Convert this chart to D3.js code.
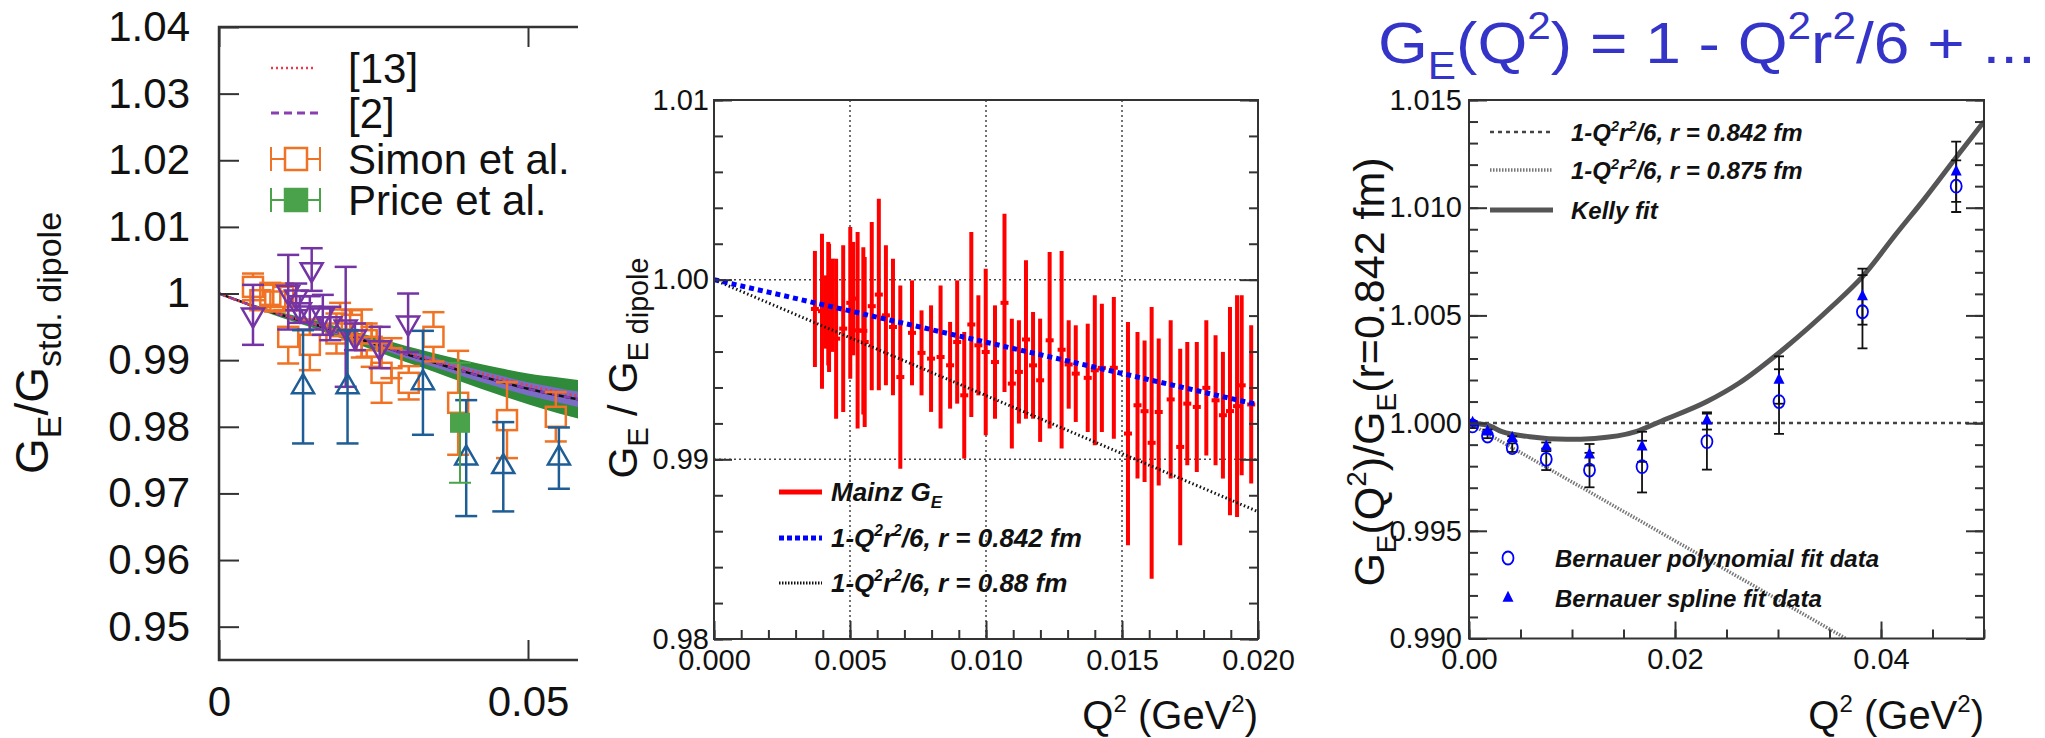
<!DOCTYPE html>
<html>
<head>
<meta charset="utf-8">
<script src="https://cdn.jsdelivr.net/npm/d3@7"></script>
<style>
  body { margin: 0; background: #fff; }
  svg { display: block; }
</style>
</head>
<body>
<div id="wrapper"></div>
<script>
const FONT = "'Liberation Sans', Arial, Helvetica, sans-serif"

// ---------- left panel: G_E / G_std.dipole ----------
const leftYTicks = [1.04, 1.03, 1.02, 1.01, 1.00, 0.99, 0.98, 0.97, 0.96, 0.95]
const leftYLabels = ["1.04", "1.03", "1.02", "1.01", "1", "0.99", "0.98", "0.97", "0.96", "0.95"]
const leftXTicks = [0, 0.05]
const leftXLabels = ["0", "0.05"]

const bandQ      = [0, 0.005, 0.01, 0.015, 0.02, 0.025, 0.03, 0.035, 0.04, 0.045, 0.05, 0.055, 0.06]
const bandMid    = [1.0, 0.9983, 0.9968, 0.9955, 0.9940, 0.9925, 0.9910, 0.9896, 0.9882, 0.9869, 0.9857, 0.9847, 0.9838]
const fit13      = [1.0, 0.9983, 0.9969, 0.9956, 0.9942, 0.9927, 0.9913, 0.9899, 0.9886, 0.9874, 0.9862, 0.9852, 0.9843]
const bandGreen  = [0, 0.0002, 0.0004, 0.0006, 0.0008, 0.0010, 0.0012, 0.0014, 0.0017, 0.0020, 0.0023, 0.0027, 0.0030]
const bandPurple = [0, 0.0001, 0.0002, 0.0003, 0.0004, 0.0005, 0.0006, 0.0007, 0.0008, 0.0009, 0.0010, 0.0011, 0.0012]

const simonQ   = [0.0055, 0.0067, 0.0083, 0.0091, 0.0104, 0.0112, 0.0147, 0.0190, 0.0196, 0.0215, 0.0231, 0.0239, 0.0247, 0.0263, 0.0279, 0.0307, 0.0347, 0.0387, 0.0466, 0.0545]
const simonV   = [1.0010, 0.9990, 0.9998, 0.9988, 0.9995, 0.9935, 0.9923, 0.9940, 0.9961, 0.9953, 0.9940, 0.9930, 0.9920, 0.9881, 0.9903, 0.9866, 0.9935, 0.9836, 0.9810, 0.9815]
const simonErr = [0.0020, 0.0015, 0.0018, 0.0015, 0.0020, 0.0040, 0.0038, 0.0030, 0.0025, 0.0022, 0.0036, 0.0025, 0.0030, 0.0045, 0.0030, 0.0025, 0.0037, 0.0078, 0.0057, 0.0037]

const purpleQ   = [0.0055, 0.0112, 0.0125, 0.0131, 0.0147, 0.0150, 0.0168, 0.0180, 0.0205, 0.0220, 0.0260, 0.0306]
const purpleV   = [0.9968, 1.0002, 0.9995, 0.9976, 0.9971, 1.0036, 0.9968, 0.9955, 0.9950, 0.9935, 0.9919, 0.9956]
const purpleErr = [0.0045, 0.0056, 0.0020, 0.0020, 0.0025, 0.0032, 0.0030, 0.0025, 0.0090, 0.0020, 0.0031, 0.0044]

const blueQ   = [0.0136, 0.0208, 0.0330, 0.0400, 0.0460, 0.0550]
const blueV   = [0.9860, 0.9860, 0.9866, 0.9753, 0.9740, 0.9753]
const blueErr = [0.0085, 0.0085, 0.0078, 0.0087, 0.0067, 0.0046]

const priceQ = [0.039]
const priceV = [0.9806]
const priceErr = [0.0090]

// ---------- middle panel: Mainz G_E ----------
const midYTicks = [0.98, 0.99, 1.00, 1.01]
const midYLabels = ["0.98", "0.99", "1.00", "1.01"]
const midXTicks = [0, 0.005, 0.010, 0.015, 0.020]
const midXLabels = ["0.000", "0.005", "0.010", "0.015", "0.020"]
const midGridX = [0.005, 0.010, 0.015]
const midGridY = [0.99, 1.00]

const mainzQ = [0.00371, 0.00397, 0.0041, 0.0042, 0.00423, 0.00436, 0.00449, 0.00475, 0.00501, 0.00512,
  0.00528, 0.00549, 0.00554, 0.0058, 0.00606, 0.00632, 0.00658, 0.00685, 0.00728, 0.00763,
  0.00798, 0.00833, 0.00868, 0.00894, 0.0092, 0.00946, 0.00972, 0.00999, 0.01033, 0.01068,
  0.01095, 0.01121, 0.01147, 0.01173, 0.01199, 0.01234, 0.01278, 0.01304, 0.0133, 0.01374,
  0.014, 0.01426, 0.0147, 0.01522, 0.01557, 0.01583, 0.01609, 0.01635, 0.01679, 0.01714,
  0.0174, 0.01775, 0.0181, 0.01844, 0.01871, 0.01897, 0.01923, 0.0194, 0.01975]
const mainzLow = [0.99514, 0.99393, 0.99616, 0.99523, 0.99486, 0.99598, 0.99226, 0.99264, 0.99449, 0.99579,
  0.99171, 0.99250, 0.99180, 0.99384, 0.99384, 0.99412, 0.99356, 0.98948, 0.99412, 0.99356,
  0.99264, 0.99171, 0.99282, 0.99310, 0.99004, 0.99236, 0.99356, 0.99134, 0.99226, 0.99375,
  0.99060, 0.99199, 0.99226, 0.99226, 0.99097, 0.99171, 0.99060, 0.99282, 0.99208, 0.99152,
  0.99078, 0.99152, 0.99115, 0.98522, 0.98893, 0.98874, 0.98336, 0.98855, 0.98893, 0.98522,
  0.98967, 0.98930, 0.99022, 0.98967, 0.98893, 0.98689, 0.98679, 0.98911, 0.98865]
const mainzHigh = [1.00160, 1.00256, 1.00024, 1.00210, 1.00200, 1.00117, 1.00117, 1.00191, 1.00293, 1.00210,
  1.00265, 1.00180, 1.00126, 1.00321, 1.00450, 1.00191, 1.00117, 0.99968, 0.99996, 0.99829,
  0.99857, 0.99968, 0.99765, 0.99996, 0.99709, 1.00265, 0.99913, 1.00061, 0.99857, 1.00367,
  0.99783, 0.99774, 1.00108, 0.99820, 0.99783, 1.00154, 1.00160, 0.99774, 0.99746, 0.99755,
  0.99913, 0.99866, 0.99904, 0.99765, 0.99709, 0.99662, 0.99848, 0.99672, 0.99774, 0.99616,
  0.99653, 0.99653, 0.99774, 0.99690, 0.99598, 0.99848, 0.99913, 0.99913, 0.99746]

const lineQ   = [0, 0.005, 0.010, 0.015, 0.020]
const line842 = [1.0, 0.99826, 0.99652, 0.99478, 0.99304]
const line088 = [1.0, 0.99677, 0.99355, 0.99032, 0.98709]

// ---------- right panel: Bernauer ----------
const rightYTicks = [0.990, 0.995, 1.000, 1.005, 1.010, 1.015]
const rightYLabels = ["0.990", "0.995", "1.000", "1.005", "1.010", "1.015"]
const rightXTicks = [0, 0.02, 0.04]
const rightXLabels = ["0.00", "0.02", "0.04"]

const kellyQ = [0, 0.0018, 0.0032, 0.0059, 0.0095, 0.0122, 0.0162, 0.0187, 0.0231, 0.0262, 0.0307, 0.0352, 0.0382, 0.0415, 0.0442, 0.0474, 0.05]
const kellyV = [1.0, 0.9999, 0.9996, 0.99937, 0.99925, 0.99929, 0.9996, 1.0001, 1.0010, 1.00185, 1.0035, 1.0054, 1.0068, 1.0088, 1.0104, 1.0124, 1.0140]
const flatQ = [0, 0.05]
const flatV = [1.0, 1.0]
const r875Q = [0, 0.0366]
const r875V = [1.0, 0.990]

const bernQ      = [0.00035, 0.0018, 0.0042, 0.0075, 0.0117, 0.0168, 0.0231, 0.0301, 0.0382, 0.0473]
const polyV      = [0.99987, 0.9994, 0.99886, 0.99832, 0.99782, 0.99798, 0.99914, 1.0010, 1.00517, 1.0110]
const polyErr    = [0.0001, 0.0001, 0.0002, 0.0005, 0.0008, 0.0012, 0.0013, 0.0015, 0.0017, 0.0012]
const splineV    = [1.0000, 0.9996, 0.99929, 0.9989, 0.99853, 0.9989, 1.0001, 1.0020, 1.00587, 1.01167]
const splineErr  = [0.0001, 0.0001, 0.0001, 0.0002, 0.0005, 0.0007, 0.0004, 0.0011, 0.0013, 0.0014]

// ---------- helpers ----------
const svg = d3.select("#wrapper").append("svg")
  .attr("width", 2045)
  .attr("height", 738)
  .attr("font-family", FONT)

// text with sub/superscripts; parts: [text, "sup"|"sub"|undefined]
function rich(sel, parts, fs, subScale = 0.68) {
  let off = 0
  parts.forEach(([t, kind]) => {
    const target = kind === "sup" ? -0.42 * fs : kind === "sub" ? 0.28 * fs : 0
    sel.append("tspan")
      .attr("dy", target - off)
      .attr("font-size", kind ? fs * subScale : fs)
      .text(t)
    off = target
  })
  return sel
}

function styleAxis(g, fs) {
  g.select(".domain").remove()
  g.attr("font-family", FONT).attr("font-size", fs)
  g.selectAll(".tick line").attr("stroke", "#333").attr("stroke-width", 2)
  g.selectAll(".tick text").attr("fill", "#111")
}

function errBar(g, x, y0, y1, cap, color, width) {
  g.append("line").attr("x1", x).attr("x2", x).attr("y1", y0).attr("y2", y1)
    .attr("stroke", color).attr("stroke-width", width)
  ;[y0, y1].forEach(y => g.append("line")
    .attr("x1", x - cap / 2).attr("x2", x + cap / 2).attr("y1", y).attr("y2", y)
    .attr("stroke", color).attr("stroke-width", width))
}

function triPath(cx, cy, w, h, up) {
  const s = up ? 1 : -1
  return `M${cx},${cy - s * h * 2 / 3} L${cx + w / 2},${cy + s * h / 3} L${cx - w / 2},${cy + s * h / 3} Z`
}

// ================= LEFT PANEL =================
const xL = d3.scaleLinear().domain([0, 0.05]).range([219, 528])
const yL = d3.scaleLinear().domain([0.945, 1.04]).range([660, 27])
const leftRight = 578

svg.append("defs").append("clipPath").attr("id", "clipL")
  .append("rect").attr("x", 219).attr("y", 27).attr("width", leftRight - 219).attr("height", 633)

const left = svg.append("g")
const leftData = left.append("g").attr("clip-path", "url(#clipL)")

const bandRows = bandQ.map((q, i) => ({ q, m: bandMid[i], g: bandGreen[i], p: bandPurple[i], f: fit13[i] }))
leftData.append("path").datum(bandRows)
  .attr("fill", "#2f8a3a")
  .attr("d", d3.area().curve(d3.curveMonotoneX).x(d => xL(d.q)).y0(d => yL(d.m - d.g)).y1(d => yL(d.m + d.g)))
leftData.append("path").datum(bandRows)
  .attr("fill", "#7b6cc6")
  .attr("d", d3.area().curve(d3.curveMonotoneX).x(d => xL(d.q)).y0(d => yL(d.m - d.p)).y1(d => yL(d.m + d.p)))
leftData.append("path").datum(bandRows)
  .attr("fill", "none").attr("stroke", "#111").attr("stroke-width", 2.5)
  .attr("d", d3.line().curve(d3.curveMonotoneX).x(d => xL(d.q)).y(d => yL(d.m)))
leftData.append("path").datum(bandRows)
  .attr("fill", "none").attr("stroke", "#8a3fb0").attr("stroke-width", 2.5).attr("stroke-dasharray", "7,5")
  .attr("d", d3.line().curve(d3.curveMonotoneX).x(d => xL(d.q)).y(d => yL(d.m)))
leftData.append("path").datum(bandRows)
  .attr("fill", "none").attr("stroke", "#e83a4a").attr("stroke-width", 2.5).attr("stroke-dasharray", "2,3")
  .attr("d", d3.line().curve(d3.curveMonotoneX).x(d => xL(d.q)).y(d => yL(d.f)))

// Simon et al. (open squares)
const orange = "#f07224"
simonQ.forEach((q, i) => {
  const cx = xL(q), cy = yL(simonV[i]), half = 10
  const top = yL(simonV[i] + simonErr[i]), bot = yL(simonV[i] - simonErr[i])
  const g = leftData.append("g")
  if (top < cy - half) {
    g.append("line").attr("x1", cx).attr("x2", cx).attr("y1", top).attr("y2", cy - half).attr("stroke", orange).attr("stroke-width", 2.5)
    g.append("line").attr("x1", cx - 11).attr("x2", cx + 11).attr("y1", top).attr("y2", top).attr("stroke", orange).attr("stroke-width", 2.5)
  }
  if (bot > cy + half) {
    g.append("line").attr("x1", cx).attr("x2", cx).attr("y1", cy + half).attr("y2", bot).attr("stroke", orange).attr("stroke-width", 2.5)
    g.append("line").attr("x1", cx - 11).attr("x2", cx + 11).attr("y1", bot).attr("y2", bot).attr("stroke", orange).attr("stroke-width", 2.5)
  }
  g.append("rect").attr("x", cx - half).attr("y", cy - half).attr("width", 2 * half).attr("height", 2 * half)
    .attr("fill", "none").attr("stroke", orange).attr("stroke-width", 2.5)
})

// down triangles (purple)
const purple = "#7434a4"
purpleQ.forEach((q, i) => {
  const cx = xL(q), cy = yL(purpleV[i])
  const g = leftData.append("g")
  errBar(g, cx, yL(purpleV[i] + purpleErr[i]), yL(purpleV[i] - purpleErr[i]), 22, purple, 2.5)
  g.append("path").attr("d", triPath(cx, cy, 22, 19, false))
    .attr("fill", "none").attr("stroke", purple).attr("stroke-width", 2.5)
})

// up triangles (blue)
const steel = "#1e5d95"
blueQ.forEach((q, i) => {
  const cx = xL(q), cy = yL(blueV[i])
  const g = leftData.append("g")
  errBar(g, cx, yL(blueV[i] + blueErr[i]), yL(blueV[i] - blueErr[i]), 22, steel, 2.5)
  g.append("path").attr("d", triPath(cx, cy, 22, 19, true))
    .attr("fill", "none").attr("stroke", steel).attr("stroke-width", 2.5)
})

// Price et al. (filled square)
const green = "#4aa24a"
priceQ.forEach((q, i) => {
  const cx = xL(q), cy = yL(priceV[i])
  const g = leftData.append("g")
  errBar(g, cx, yL(priceV[i] + priceErr[i]), yL(priceV[i] - priceErr[i]), 22, green, 2)
  g.append("rect").attr("x", cx - 10).attr("y", cy - 10).attr("width", 20).attr("height", 20).attr("fill", green)
})

// frame + axes
left.append("path").attr("d", `M${leftRight},27 H219 V660 H${leftRight}`)
  .attr("fill", "none").attr("stroke", "#333").attr("stroke-width", 2.5)
left.append("g").attr("transform", "translate(219,0)")
  .call(d3.axisLeft(yL).tickValues(leftYTicks).tickSize(-20).tickPadding(29).tickFormat((d, i) => leftYLabels[i]))
  .call(g => styleAxis(g, 42))
left.append("g").attr("transform", "translate(0,660)")
  .call(d3.axisBottom(xL).tickValues(leftXTicks).tickSize(-20).tickPadding(26).tickFormat((d, i) => leftXLabels[i]))
  .call(g => styleAxis(g, 42))
left.append("g").attr("transform", "translate(0,27)")
  .call(d3.axisTop(xL).tickValues(leftXTicks).tickSize(-20).tickFormat(""))
  .call(g => styleAxis(g, 42))

rich(left.append("text").attr("transform", "translate(48,343) rotate(-90)")
  .attr("text-anchor", "middle").attr("fill", "#111"),
  [["G"], ["E", "sub"], ["/G"], ["std. dipole", "sub"]], 46, 0.74)

// legend
const legL = left.append("g")
const legLX0 = 271, legLX1 = 320, legLText = 348
legL.append("line").attr("x1", legLX0).attr("x2", legLX1 - 4).attr("y1", 68).attr("y2", 68)
  .attr("stroke", "#e83a4a").attr("stroke-width", 2.5).attr("stroke-dasharray", "2,3")
legL.append("line").attr("x1", legLX0).attr("x2", legLX1).attr("y1", 113).attr("y2", 113)
  .attr("stroke", "#8a3fb0").attr("stroke-width", 3).attr("stroke-dasharray", "8,5")
;[[159, orange, false], [200, green, true]].forEach(([y, c, filled]) => {
  legL.append("line").attr("x1", legLX0).attr("x2", legLX1).attr("y1", y).attr("y2", y).attr("stroke", c).attr("stroke-width", 2)
  ;[legLX0, legLX1].forEach(x => legL.append("line").attr("x1", x).attr("x2", x).attr("y1", y - 12).attr("y2", y + 12).attr("stroke", c).attr("stroke-width", 2))
  legL.append("rect").attr("x", 285).attr("y", y - 11).attr("width", 22).attr("height", 22)
    .attr("fill", filled ? c : "#fff").attr("stroke", c).attr("stroke-width", 2.5)
})
;[["[13]", 68], ["[2]", 113], ["Simon et al.", 159], ["Price et al.", 200]].forEach(([t, y]) => {
  legL.append("text").attr("x", legLText).attr("y", y + 15).attr("font-size", 42).attr("fill", "#111").text(t)
})

// ================= MIDDLE PANEL =================
const xM = d3.scaleLinear().domain([0, 0.02]).range([714, 1258])
const yM = d3.scaleLinear().domain([0.98, 1.01]).range([639, 100])
const mid = svg.append("g")

// grid
midGridX.forEach(q => mid.append("line").attr("x1", xM(q)).attr("x2", xM(q)).attr("y1", 100).attr("y2", 639)
  .attr("stroke", "#444").attr("stroke-width", 1.5).attr("stroke-dasharray", "2,3"))
midGridY.forEach(v => mid.append("line").attr("x1", 714).attr("x2", 1258).attr("y1", yM(v)).attr("y2", yM(v))
  .attr("stroke", "#444").attr("stroke-width", 1.5).attr("stroke-dasharray", "2,3"))

// Mainz data
const red = "#ff0000"
mainzQ.forEach((q, i) => {
  const cx = xM(q)
  mid.append("line").attr("x1", cx).attr("x2", cx).attr("y1", yM(mainzHigh[i])).attr("y2", yM(mainzLow[i]))
    .attr("stroke", red).attr("stroke-width", 4)
  mid.append("rect").attr("x", cx - 4).attr("y", yM((mainzHigh[i] + mainzLow[i]) / 2) - 2).attr("width", 8).attr("height", 4).attr("fill", red)
})

const lineRows = lineQ.map((q, i) => ({ q, a: line842[i], b: line088[i] }))
mid.append("path").datum(lineRows).attr("fill", "none").attr("stroke", "#111").attr("stroke-width", 3)
  .attr("stroke-dasharray", "1.5,2.5")
  .attr("d", d3.line().x(d => xM(d.q)).y(d => yM(d.b)))
mid.append("path").datum(lineRows).attr("fill", "none").attr("stroke", "#0000ff").attr("stroke-width", 5)
  .attr("stroke-dasharray", "5,4")
  .attr("d", d3.line().x(d => xM(d.q)).y(d => yM(d.a)))

mid.append("rect").attr("x", 714).attr("y", 100).attr("width", 544).attr("height", 539)
  .attr("fill", "none").attr("stroke", "#333").attr("stroke-width", 2)

const midMinorY = d3.range(0.98, 1.0101, 0.002)
const midMinorX = d3.range(0, 0.02001, 0.001)
mid.append("g").attr("transform", "translate(714,0)")
  .call(d3.axisLeft(yM).tickValues(midMinorY).tickSize(-9).tickFormat("")).call(g => styleAxis(g, 29))
mid.append("g").attr("transform", "translate(1258,0)")
  .call(d3.axisRight(yM).tickValues(midMinorY).tickSize(-9).tickFormat("")).call(g => styleAxis(g, 29))
mid.append("g").attr("transform", "translate(714,0)")
  .call(d3.axisLeft(yM).tickValues(midYTicks).tickSize(-18).tickPadding(5).tickFormat((d, i) => midYLabels[i]))
  .call(g => styleAxis(g, 29))
mid.append("g").attr("transform", "translate(1258,0)")
  .call(d3.axisRight(yM).tickValues(midYTicks).tickSize(-18).tickFormat("")).call(g => styleAxis(g, 29))
mid.append("g").attr("transform", "translate(0,639)")
  .call(d3.axisBottom(xM).tickValues(midMinorX).tickSize(-9).tickFormat("")).call(g => styleAxis(g, 29))
mid.append("g").attr("transform", "translate(0,639)")
  .call(d3.axisBottom(xM).tickValues(midXTicks).tickSize(-18).tickPadding(10).tickFormat((d, i) => midXLabels[i]))
  .call(g => styleAxis(g, 29))

rich(mid.append("text").attr("x", 1258).attr("y", 729).attr("text-anchor", "end").attr("fill", "#111"),
  [["Q"], ["2", "sup"], [" (GeV"], ["2", "sup"], [")"]], 40, 0.6)
rich(mid.append("text").attr("transform", "translate(637,368) rotate(-90)").attr("text-anchor", "middle").attr("fill", "#111"),
  [["G"], ["E", "sub"], [" / G"], ["E dipole", "sub"]], 41, 0.7)

// legend
const legM = mid.append("g").attr("font-weight", "bold").attr("font-style", "italic")
legM.append("line").attr("x1", 779).attr("x2", 822).attr("y1", 492).attr("y2", 492).attr("stroke", red).attr("stroke-width", 5)
legM.append("line").attr("x1", 779).attr("x2", 822).attr("y1", 538).attr("y2", 538).attr("stroke", "#0000ff").attr("stroke-width", 5).attr("stroke-dasharray", "5,3")
legM.append("line").attr("x1", 779).attr("x2", 822).attr("y1", 583).attr("y2", 583).attr("stroke", "#111").attr("stroke-width", 3).attr("stroke-dasharray", "1.5,1.5")
rich(legM.append("text").attr("x", 831).attr("y", 501).attr("fill", "#111"), [["Mainz G"], ["E", "sub"]], 26, 0.65)
rich(legM.append("text").attr("x", 831).attr("y", 547).attr("fill", "#111"),
  [["1-Q"], ["2", "sup"], ["r"], ["2", "sup"], ["/6, r = 0.842 fm"]], 26, 0.6)
rich(legM.append("text").attr("x", 831).attr("y", 592).attr("fill", "#111"),
  [["1-Q"], ["2", "sup"], ["r"], ["2", "sup"], ["/6, r = 0.88 fm"]], 26, 0.6)

// ================= RIGHT PANEL =================
const xR = d3.scaleLinear().domain([0, 0.05]).range([1469, 1984])
const yR = d3.scaleLinear().domain([0.990, 1.015]).range([638.5, 100])
const right = svg.append("g")
svg.select("defs").append("clipPath").attr("id", "clipR")
  .append("rect").attr("x", 1469).attr("y", 100).attr("width", 515).attr("height", 538.5)
const rightData = right.append("g").attr("clip-path", "url(#clipR)")

const lineR = d3.line().x(d => xR(d[0])).y(d => yR(d[1]))
rightData.append("path").datum(flatQ.map((q, i) => [q, flatV[i]]))
  .attr("fill", "none").attr("stroke", "#444").attr("stroke-width", 2.5).attr("stroke-dasharray", "4,4").attr("d", lineR)
rightData.append("path").datum(r875Q.map((q, i) => [q, r875V[i]]))
  .attr("fill", "none").attr("stroke", "#777").attr("stroke-width", 3.5).attr("stroke-dasharray", "1.5,1.5").attr("d", lineR)
rightData.append("path").datum(kellyQ.map((q, i) => [q, kellyV[i]]))
  .attr("fill", "none").attr("stroke", "#555").attr("stroke-width", 5)
  .attr("d", d3.line().curve(d3.curveMonotoneX).x(d => xR(d[0])).y(d => yR(d[1])))

bernQ.forEach((q, i) => {
  const cx = xR(q)
  errBar(rightData, cx, yR(polyV[i] + polyErr[i]), yR(polyV[i] - polyErr[i]), 10, "#111", 1.8)
  errBar(rightData, cx, yR(splineV[i] + splineErr[i]), yR(splineV[i] - splineErr[i]), 10, "#111", 1.8)
})
bernQ.forEach((q, i) => {
  rightData.append("ellipse").attr("cx", xR(q)).attr("cy", yR(polyV[i])).attr("rx", 5.5).attr("ry", 6.5)
    .attr("fill", "none").attr("stroke", "#0000ff").attr("stroke-width", 1.8)
  rightData.append("path").attr("d", triPath(xR(q), yR(splineV[i]), 11, 11, true)).attr("fill", "#0000ff")
})

right.append("rect").attr("x", 1469).attr("y", 100).attr("width", 515).attr("height", 538.5)
  .attr("fill", "none").attr("stroke", "#333").attr("stroke-width", 2)

const rightMinorY = d3.range(0.990, 1.0151, 0.001)
const rightMinorX = d3.range(0, 0.05001, 0.005)
right.append("g").attr("transform", "translate(1469,0)")
  .call(d3.axisLeft(yR).tickValues(rightMinorY).tickSize(-9).tickFormat("")).call(g => styleAxis(g, 29))
right.append("g").attr("transform", "translate(1984,0)")
  .call(d3.axisRight(yR).tickValues(rightMinorY).tickSize(-9).tickFormat("")).call(g => styleAxis(g, 29))
right.append("g").attr("transform", "translate(1469,0)")
  .call(d3.axisLeft(yR).tickValues(rightYTicks).tickSize(-18).tickPadding(7).tickFormat((d, i) => rightYLabels[i]))
  .call(g => styleAxis(g, 29))
right.append("g").attr("transform", "translate(1984,0)")
  .call(d3.axisRight(yR).tickValues(rightYTicks).tickSize(-18).tickFormat("")).call(g => styleAxis(g, 29))
right.append("g").attr("transform", "translate(0,638.5)")
  .call(d3.axisBottom(xR).tickValues(rightMinorX).tickSize(-9).tickFormat("")).call(g => styleAxis(g, 29))
right.append("g").attr("transform", "translate(0,638.5)")
  .call(d3.axisBottom(xR).tickValues(rightXTicks).tickSize(-17).tickPadding(10).tickFormat((d, i) => rightXLabels[i]))
  .call(g => styleAxis(g, 29))

rich(right.append("text").attr("x", 1984).attr("y", 729).attr("text-anchor", "end").attr("fill", "#111"),
  [["Q"], ["2", "sup"], [" (GeV"], ["2", "sup"], [")"]], 40, 0.6)
rich(right.append("text").attr("transform", "translate(1384,372) rotate(-90)").attr("text-anchor", "middle").attr("fill", "#111"),
  [["G"], ["E", "sub"], ["(Q"], ["2", "sup"], [")/G"], ["E", "sub"], ["(r=0.842 fm)"]], 43, 0.65)

// legend
const legR = right.append("g").attr("font-weight", "bold").attr("font-style", "italic")
legR.append("line").attr("x1", 1490).attr("x2", 1553).attr("y1", 132).attr("y2", 132).attr("stroke", "#444").attr("stroke-width", 2.5).attr("stroke-dasharray", "4,4")
legR.append("line").attr("x1", 1490).attr("x2", 1553).attr("y1", 170).attr("y2", 170).attr("stroke", "#777").attr("stroke-width", 3.5).attr("stroke-dasharray", "1.5,1.5")
legR.append("line").attr("x1", 1490).attr("x2", 1553).attr("y1", 210).attr("y2", 210).attr("stroke", "#555").attr("stroke-width", 5)
rich(legR.append("text").attr("x", 1571).attr("y", 141).attr("fill", "#111"),
  [["1-Q"], ["2", "sup"], ["r"], ["2", "sup"], ["/6, r = 0.842 fm"]], 24, 0.6)
rich(legR.append("text").attr("x", 1571).attr("y", 179).attr("fill", "#111"),
  [["1-Q"], ["2", "sup"], ["r"], ["2", "sup"], ["/6, r = 0.875 fm"]], 24, 0.6)
legR.append("text").attr("x", 1571).attr("y", 219).attr("font-size", 24).attr("fill", "#111").text("Kelly fit")
legR.append("ellipse").attr("cx", 1508).attr("cy", 558).attr("rx", 5.5).attr("ry", 6.5)
  .attr("fill", "none").attr("stroke", "#0000ff").attr("stroke-width", 1.8)
legR.append("path").attr("d", triPath(1508, 598, 11, 11, true)).attr("fill", "#0000ff")
legR.append("text").attr("x", 1555).attr("y", 567).attr("font-size", 24).attr("fill", "#111").text("Bernauer polynomial fit data")
legR.append("text").attr("x", 1555).attr("y", 607).attr("font-size", 24).attr("fill", "#111").text("Bernauer spline fit data")

// title, stretched to span the width it takes in the original slide
const title = rich(svg.append("text").attr("x", 0).attr("y", 0).attr("fill", "#3434c8"),
  [["G"], ["E", "sub"], ["(Q"], ["2", "sup"], [") = 1 - Q"], ["2", "sup"], ["r"], ["2", "sup"], ["/6 + ..."]], 58, 0.66)
const titleW = title.node().getBBox().width
title.attr("transform", `translate(1378,63) scale(${658 / titleW},1)`)
</script>
</body>
</html>
